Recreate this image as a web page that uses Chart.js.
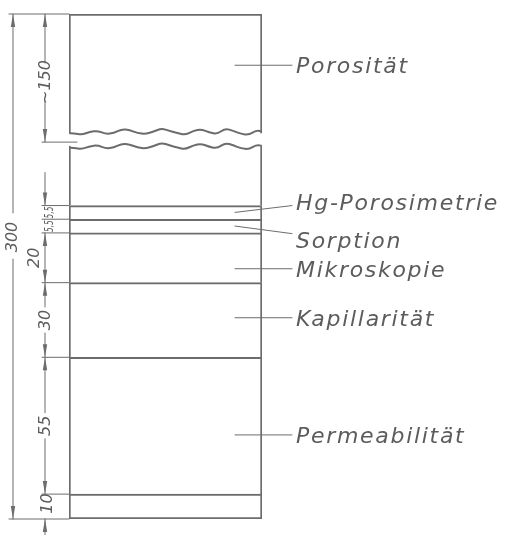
<!DOCTYPE html>
<html>
<head>
<meta charset="utf-8">
<script src="https://cdn.jsdelivr.net/npm/chart.js@4.4.0/dist/chart.umd.min.js"></script>
<style>
  html, body { margin: 0; padding: 0; background: #fff; }
  #wrap { width: 506px; height: 535px; }
</style>
</head>
<body>
<div id="wrap"><canvas id="probe"></canvas></div>
<script>
// Abschnitte der Probe, von unten nach oben (Längen in mm)
const abschnitte = ['', 'Permeabilität', 'Kapillarität', 'Mikroskopie', 'Sorption', 'Hg-Porosimetrie'];
const laengen = [10, 55, 30, 20, 5.5, 5.5];
const masstexte = ['10', '55', '30', '20', '5,5', '5,5'];
const oberesStueck = 'Porosität';
const oberesMass = '~150';
const gesamtMass = '300';

// Bruchstelle: unteres Stück bis 150, oberes Stück verkürzt gezeichnet
const unteresEnde = 150;
const bruchMitte = 151.5;
const oberesAnfang = 155;
const zeichnungsHoehe = 203;

// Höhe der Beschriftungen (in Zeichnungs-mm)
const beschriftungY = [182.4, 127.6, 112.3, 100.6, 80.9, 33.8];
const beschriftungText = [oberesStueck, 'Hg-Porosimetrie', 'Sorption', 'Mikroskopie', 'Kapillarität', 'Permeabilität'];

const LINIE = '#6c6c6c';
const TEXT = '#5c5c5c';

// Grenzen aufsummieren
const grenzen = [0];
laengen.forEach(l => grenzen.push(grenzen[grenzen.length - 1] + l));

const basis = {
    backgroundColor: '#ffffff',
    borderColor: LINIE,
    grouped: false,
    borderSkipped: false,
    barPercentage: 1,
    categoryPercentage: 1
};

// jede Trennlinie nur einmal zeichnen: obere Kante je Abschnitt
const datasets = laengen.map((l, i) => Object.assign({}, basis, {
    label: abschnitte[i] || 'Rest',
    data: [[grenzen[i], grenzen[i + 1]]],
    borderWidth: { top: 2, bottom: i === 0 ? 2 : 0, left: 2, right: 2 }
}));
datasets.push(Object.assign({}, basis, {
    label: 'unteres Stück',
    data: [[grenzen[grenzen.length - 1], unteresEnde]],
    borderWidth: { top: 0, bottom: 0, left: 2, right: 2 }
}));
datasets.push(Object.assign({}, basis, {
    label: oberesStueck,
    data: [[oberesAnfang, zeichnungsHoehe]],
    borderWidth: { top: 2, bottom: 0, left: 2, right: 2 }
}));

// Form der Bruchlinie (nur Zierde)
const welle = [0.5, 1.5, -0.5, -1, 1, 0.5, -2, -1.5, 0.5, 1, -0.5, -2.5, -1, 0.5, 1.5, -1, -2, 0, 1, -2.5, -1, 1, 1.5, -1.5, 0];

function pfeil(ctx, x, spitze, richtung) {
    // richtung: -1 nach oben, +1 nach unten
    ctx.beginPath();
    ctx.moveTo(x, spitze);
    ctx.lineTo(x - 2.2, spitze - richtung * 13);
    ctx.lineTo(x + 2.2, spitze - richtung * 13);
    ctx.closePath();
    ctx.fill();
}

function linie(ctx, x1, y1, x2, y2) {
    ctx.beginPath();
    ctx.moveTo(x1, y1);
    ctx.lineTo(x2, y2);
    ctx.stroke();
}

function drehText(ctx, text, x, y, maxB) {
    ctx.save();
    ctx.translate(x, y);
    ctx.rotate(-Math.PI / 2);
    ctx.textAlign = 'center';
    ctx.textBaseline = 'middle';
    if (maxB) ctx.fillText(text, 0, 0, maxB);
    else ctx.fillText(text, 0, 0);
    ctx.restore();
}

const zeichnung = {
    id: 'zeichnung',
    afterDatasetsDraw(chart) {
        const ctx = chart.ctx;
        const y = chart.scales.y;
        const bar = chart.getDatasetMeta(0).data[0];
        const links = bar.x - bar.width / 2;
        const rechts = bar.x + bar.width / 2;
        const py = v => y.getPixelForValue(v);

        ctx.save();
        ctx.strokeStyle = LINIE;
        ctx.fillStyle = LINIE;
        ctx.lineCap = 'round';
        ctx.lineJoin = 'round';

        // Bruchlinien
        ctx.lineWidth = 2;
        [unteresEnde, oberesAnfang].forEach((wert, k) => {
            const basisY = py(wert) + (k === 0 ? 1 : -1);
            const schritt = (rechts - links - 2) / (welle.length - 1);
            const amp = 1.6;
            ctx.beginPath();
            ctx.moveTo(links + 1, basisY + welle[0] * amp);
            for (let i = 1; i < welle.length; i++) {
                const xa = links + 1 + (i - 0.5) * schritt;
                const xb = links + 1 + i * schritt;
                ctx.quadraticCurveTo(xa, basisY + welle[i - 1] * amp, xb, basisY + (welle[i - 1] + welle[i]) / 2 * amp);
            }
            ctx.stroke();
        });

        // Maßhilfslinien
        ctx.lineWidth = 1;
        const xKette = 45;
        const xGesamt = 13;
        linie(ctx, 9, py(0), links, py(0));
        linie(ctx, 9, py(zeichnungsHoehe), links, py(zeichnungsHoehe));
        for (let i = 1; i < grenzen.length; i++) linie(ctx, 42, py(grenzen[i]), links, py(grenzen[i]));
        linie(ctx, 42, py(bruchMitte), links + 8, py(bruchMitte));

        ctx.fillStyle = TEXT;
        ctx.font = 'oblique 16px "DejaVu Sans"';

        // Gesamtmaß
        const tGes = 237;
        linie(ctx, xGesamt, py(zeichnungsHoehe), xGesamt, tGes - 24);
        linie(ctx, xGesamt, tGes + 22, xGesamt, py(0));
        ctx.fillStyle = LINIE;
        pfeil(ctx, xGesamt, py(zeichnungsHoehe), -1);
        pfeil(ctx, xGesamt, py(0), 1);
        ctx.fillStyle = TEXT;
        drehText(ctx, gesamtMass, xGesamt, tGes);

        // oberes Maß ~150
        const mOben = (py(zeichnungsHoehe) + py(bruchMitte)) / 2 + 4;
        linie(ctx, xKette, py(zeichnungsHoehe), xKette, mOben - 19);
        linie(ctx, xKette, mOben + 19, xKette, py(bruchMitte));
        ctx.fillStyle = LINIE;
        pfeil(ctx, xKette, py(zeichnungsHoehe), -1);
        pfeil(ctx, xKette, py(bruchMitte), 1);
        ctx.fillStyle = TEXT;
        drehText(ctx, oberesMass, xKette + 1, mOben);

        // Maßkette unten
        for (let i = 0; i < laengen.length; i++) {
            const a = py(grenzen[i]);
            const b = py(grenzen[i + 1]);
            const mitte = (a + b) / 2;
            const hoehe = a - b;
            if (hoehe < 20) {
                ctx.font = 'oblique 12px "DejaVu Sans"';
                drehText(ctx, masstexte[i], xKette + 5, mitte, 12);
                continue;
            }
            ctx.font = 'oblique 16px "DejaVu Sans"';
            if (i === 0) {
                linie(ctx, xKette, a, xKette, a + 16);
                ctx.fillStyle = LINIE;
                pfeil(ctx, xKette, a, -1);
                ctx.fillStyle = TEXT;
                drehText(ctx, masstexte[i], xKette + 3, mitte - 3);
                continue;
            }
            if (hoehe < 60) {
                linie(ctx, xKette, a, xKette, b);
                drehText(ctx, masstexte[i], xKette - 10, mitte);
            } else {
                linie(ctx, xKette, a, xKette, mitte + 13);
                linie(ctx, xKette, mitte - 13, xKette, b);
                drehText(ctx, masstexte[i], xKette + 1, mitte);
            }
            ctx.fillStyle = LINIE;
            pfeil(ctx, xKette, a, 1);
            pfeil(ctx, xKette, b, -1);
            ctx.fillStyle = TEXT;
        }
        // Pfeil von oben auf die kleinen Abschnitte
        const obenKlein = py(grenzen[grenzen.length - 1]);
        linie(ctx, xKette, obenKlein - 33, xKette, obenKlein);
        ctx.fillStyle = LINIE;
        pfeil(ctx, xKette, obenKlein, 1);

        // Beschriftungen rechts
        ctx.font = 'oblique 22px "DejaVu Sans"';
        ctx.letterSpacing = '1.7px';
        ctx.textAlign = 'left';
        ctx.textBaseline = 'alphabetic';
        const xInnen = rechts - 27;
        const xEnde = 292;
        // Ankerpunkte der Hinweislinien im Bauteil
        const anker = [beschriftungY[0], (grenzen[5] + grenzen[6]) / 2, (grenzen[4] + grenzen[5]) / 2,
                       beschriftungY[3], beschriftungY[4], beschriftungY[5]];
        beschriftungText.forEach((t, i) => {
            const yl = py(beschriftungY[i]);
            ctx.strokeStyle = LINIE;
            const ya = py(anker[i]);
            const yz = i === 1 ? yl + 4 : (i === 2 ? yl - 6 : yl);
            linie(ctx, xInnen, ya, xEnde, yz);
            ctx.fillStyle = TEXT;
            ctx.fillText(t, xEnde + 4, yl + 8);
        });
        ctx.restore();
    }
};

new Chart(document.getElementById('probe'), {
    type: 'bar',
    data: { labels: ['Probe'], datasets: datasets },
    options: {
        responsive: true,
        maintainAspectRatio: false,
        animation: false,
        layout: { padding: { left: 69, right: 244, top: 14, bottom: 16 } },
        plugins: { legend: { display: false }, tooltip: { enabled: false } },
        scales: {
            x: { display: false },
            y: { display: false, min: 0, max: zeichnungsHoehe }
        }
    },
    plugins: [zeichnung]
});
</script>
</body>
</html>
